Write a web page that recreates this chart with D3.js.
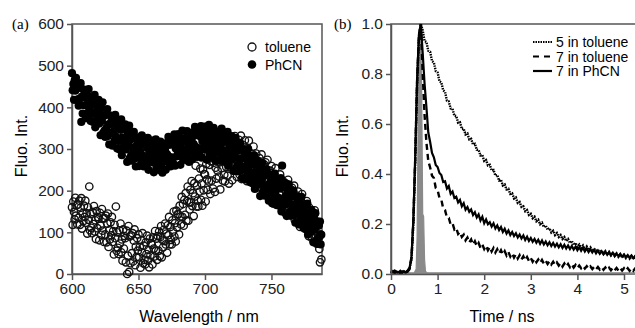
<!DOCTYPE html>
<html>
<head>
<meta charset="utf-8">
<script src="https://cdn.jsdelivr.net/npm/d3@7"></script>
<style>
  body { margin: 0; background: #fff; }
  svg { display: block; font-family: Arial, "Liberation Sans", sans-serif; }
</style>
</head>
<body>
<div id="chart"></div>
<script>
// (a) emission spectra, one value every 0.5 nm from 600 nm
const wlStart = 600;
const wlStep = 0.5;
const wlTicks = [600, 650, 700, 750];
const intTicks = [0, 100, 200, 300, 400, 500, 600];

const toluene = [
  160, 118, 174, 149, 131, 183, 140, 165, 119, 167,
  135, 176, 118, 159, 182, 109, 146, 127, 164, 137,
  176, 123, 146, 97, 160, 130, 210, 105, 144, 111,
  98, 149, 120, 163, 102, 129, 84, 151, 110, 137,
  133, 81, 147, 116, 94, 156, 104, 133, 77, 134,
  95, 140, 76, 121, 145, 65, 105, 83, 124, 93,
  137, 77, 103, 47, 118, 86, 162, 56, 100, 63,
  48, 105, 73, 121, 52, 83, 32, 107, 61, 91,
  86, 28, 104, 0, 44, 115, 5, 90, 26, 93,
  50, 98, 30, 80, 107, 21, 66, 41, 86, 56,
  95, 40, 65, 15, 81, 52, 98, 26, 68, 34,
  23, 76, 48, 92, 32, 58, 16, 85, 45, 74,
  70, 23, 88, 61, 42, 103, 56, 85, 34, 91,
  56, 102, 43, 89, 115, 40, 82, 64, 106, 79,
  121, 71, 97, 51, 117, 93, 137, 71, 113, 82,
  71, 129, 102, 150, 90, 122, 78, 152, 112, 144,
  143, 95, 164, 138, 119, 185, 137, 168, 116, 178,
  142, 194, 128, 175, 210, 128, 172, 155, 202, 173,
  223, 163, 194, 139, 218, 186, 260, 162, 212, 176,
  162, 229, 198, 253, 178, 217, 164, 251, 201, 240,
  239, 174, 264, 227, 202, 286, 222, 262, 192, 271,
  224, 285, 205, 267, 301, 197, 255, 229, 285, 248,
  305, 234, 268, 203, 292, 254, 316, 224, 281, 238,
  222, 294, 257, 310, 236, 276, 217, 311, 256, 295,
  291, 225, 313, 275, 248, 331, 264, 304, 233, 311,
  261, 322, 239, 299, 332, 228, 282, 255, 309, 271,
  321, 255, 278, 223, 302, 266, 320, 234, 283, 242,
  228, 288, 253, 306, 231, 263, 208, 289, 239, 271,
  264, 208, 278, 245, 221, 287, 231, 260, 200, 263,
  221, 268, 199, 243, 274, 186, 229, 211, 248, 215,
  259, 199, 224, 169, 239, 206, 254, 176, 219, 182,
  167, 224, 191, 239, 170, 198, 152, 224, 178, 208,
  202, 146, 217, 184, 162, 226, 171, 198, 141, 203,
  162, 207, 143, 182, 212, 130, 170, 148, 188, 158,
  198, 141, 161, 113, 177, 150, 192, 119, 159, 124,
  109, 162, 132, 175, 110, 136, 91, 159, 117, 144,
  137, 86, 148, 118, 95, 153, 103, 123, 73, 126,
  88, 118, 60, 28, 95, 35
];

const phcn = [
  482, 441, 456, 418, 464, 440, 471, 418, 446, 419,
  404, 448, 421, 458, 365, 426, 385, 443, 405, 428,
  424, 374, 437, 407, 386, 444, 394, 421, 367, 422,
  384, 426, 365, 407, 430, 352, 390, 369, 407, 378,
  418, 361, 385, 333, 398, 367, 412, 339, 379, 344,
  329, 382, 351, 396, 331, 359, 311, 381, 338, 365,
  360, 308, 373, 343, 320, 382, 330, 358, 301, 359,
  319, 367, 298, 346, 371, 285, 328, 304, 348, 315,
  359, 299, 325, 269, 340, 308, 356, 278, 322, 285,
  272, 326, 296, 341, 277, 305, 258, 328, 285, 314,
  308, 259, 323, 294, 273, 333, 284, 311, 258, 314,
  277, 320, 260, 303, 327, 250, 290, 270, 309, 281,
  320, 268, 292, 244, 307, 279, 323, 255, 294, 262,
  250, 302, 274, 318, 259, 287, 243, 312, 271, 301,
  297, 250, 314, 287, 268, 329, 281, 310, 258, 315,
  280, 325, 266, 310, 335, 260, 301, 282, 322, 295,
  336, 285, 309, 262, 326, 299, 344, 276, 317, 285,
  274, 327, 299, 343, 284, 314, 269, 337, 298, 326,
  323, 276, 340, 312, 292, 353, 305, 333, 281, 338,
  302, 346, 287, 330, 355, 279, 319, 300, 339, 312,
  354, 299, 324, 274, 341, 311, 358, 286, 328, 294,
  281, 336, 305, 351, 288, 318, 272, 342, 300, 328,
  324, 272, 339, 309, 287, 349, 298, 326, 271, 329,
  290, 336, 272, 317, 341, 260, 301, 279, 320, 293,
  331, 275, 299, 247, 313, 282, 327, 255, 295, 260,
  246, 300, 269, 314, 249, 277, 230, 300, 256, 284,
  279, 227, 292, 261, 239, 300, 248, 276, 220, 277,
  237, 282, 217, 262, 285, 204, 244, 221, 262, 231,
  271, 215, 239, 187, 253, 222, 267, 195, 235, 200,
  188, 239, 212, 251, 192, 214, 176, 238, 198, 224,
  219, 170, 232, 203, 182, 241, 191, 218, 165, 220,
  183, 226, 164, 205, 230, 150, 260, 176, 210, 180,
  219, 166, 188, 139, 202, 172, 215, 146, 185, 151,
  140, 188, 159, 200, 141, 166, 123, 186, 147, 172,
  166, 119, 178, 150, 129, 185, 137, 162, 111, 163,
  127, 167, 108, 148, 169, 95, 131, 110, 146, 118,
  154, 103, 124, 76, 135, 106, 146, 79, 115, 83,
  72, 116, 89, 126, 71, 94
];

// (b) decay profiles, one value every 0.04 ns from 0 ns
const tStep = 0.04;
const timeTicks = [0, 1, 2, 3, 4, 5];
const fluoTicks = [0, 0.2, 0.4, 0.6, 0.8, 1.0];

const tol5 = [
  0.010, 0.004, 0.012, 0.008, 0.002, 0.006, 0.014, 0.005, 0.009, 0.012,
  0.022, 0.060, 0.200, 0.450, 0.760, 0.950, 1.000,
  0.975, 0.932, 0.928, 0.893, 0.889, 0.852, 0.846, 0.812, 0.806, 0.771,
  0.766, 0.735, 0.728, 0.693, 0.690, 0.662, 0.661, 0.633, 0.632, 0.605,
  0.607, 0.580, 0.581, 0.558, 0.562, 0.538, 0.541, 0.518, 0.521, 0.497,
  0.496, 0.474, 0.476, 0.452, 0.456, 0.434, 0.437, 0.414, 0.416, 0.394,
  0.396, 0.374, 0.377, 0.354, 0.358, 0.338, 0.341, 0.320, 0.323, 0.302,
  0.306, 0.284, 0.288, 0.268, 0.271, 0.251, 0.256, 0.236, 0.241, 0.223,
  0.229, 0.211, 0.217, 0.199, 0.205, 0.188, 0.194, 0.177, 0.183, 0.166,
  0.173, 0.156, 0.164, 0.148, 0.156, 0.140, 0.148, 0.132, 0.140, 0.124,
  0.132, 0.116, 0.124, 0.109, 0.118, 0.104, 0.114, 0.100, 0.110, 0.096,
  0.106, 0.092, 0.102, 0.088, 0.098, 0.084, 0.094, 0.081, 0.091, 0.078,
  0.088, 0.075, 0.085, 0.072, 0.082, 0.069, 0.079, 0.066, 0.076, 0.064,
  0.074, 0.062, 0.072, 0.060, 0.070, 0.059, 0.068, 0.058, 0.067, 0.057,
  0.065
];

const tol7 = [
  0.004, 0.009, 0.013, 0.005, 0.011, 0.003, 0.009, 0.014, 0.007, 0.010,
  0.020, 0.065, 0.210, 0.460, 0.770, 0.950, 1.000,
  0.802, 0.636, 0.527, 0.452, 0.426, 0.393, 0.384, 0.344, 0.336, 0.304,
  0.298, 0.262, 0.255, 0.226, 0.224, 0.198, 0.203, 0.178, 0.184, 0.160,
  0.168, 0.148, 0.157, 0.135, 0.146, 0.126, 0.138, 0.118, 0.131, 0.112,
  0.124, 0.105, 0.118, 0.100, 0.113, 0.095, 0.108, 0.090, 0.104, 0.086,
  0.099, 0.082, 0.095, 0.078, 0.091, 0.074, 0.088, 0.070, 0.083, 0.066,
  0.079, 0.062, 0.075, 0.058, 0.071, 0.055, 0.068, 0.052, 0.064, 0.049,
  0.061, 0.047, 0.058, 0.044, 0.056, 0.042, 0.053, 0.040, 0.051, 0.038,
  0.049, 0.036, 0.046, 0.034, 0.044, 0.030, 0.042, 0.029, 0.040, 0.027,
  0.038, 0.026, 0.036, 0.024, 0.034, 0.023, 0.032, 0.022, 0.031, 0.021,
  0.030, 0.020, 0.029, 0.019, 0.028, 0.018, 0.027, 0.017, 0.026, 0.016,
  0.025, 0.015, 0.025, 0.015, 0.024, 0.014, 0.024, 0.014, 0.023, 0.013,
  0.023, 0.013, 0.022, 0.013, 0.022, 0.012, 0.022, 0.012, 0.021, 0.012,
  0.021
];

const phcn7 = [
  0.006, 0.012, 0.003, 0.010, 0.007, 0.013, 0.004, 0.011, 0.006, 0.015,
  0.025, 0.070, 0.220, 0.470, 0.780, 0.960, 1.000,
  0.884, 0.762, 0.668, 0.566, 0.528, 0.484, 0.467, 0.436, 0.428, 0.404,
  0.396, 0.368, 0.371, 0.342, 0.352, 0.321, 0.330, 0.304, 0.309, 0.286,
  0.296, 0.271, 0.283, 0.257, 0.268, 0.249, 0.258, 0.236, 0.247, 0.226,
  0.238, 0.214, 0.229, 0.203, 0.218, 0.199, 0.207, 0.190, 0.203, 0.182,
  0.194, 0.176, 0.188, 0.168, 0.181, 0.162, 0.174, 0.156, 0.168, 0.152,
  0.163, 0.146, 0.158, 0.142, 0.154, 0.136, 0.149, 0.132, 0.144, 0.129,
  0.140, 0.125, 0.137, 0.121, 0.134, 0.118, 0.130, 0.115, 0.127, 0.112,
  0.124, 0.110, 0.121, 0.107, 0.119, 0.104, 0.117, 0.102, 0.114, 0.100,
  0.112, 0.098, 0.109, 0.095, 0.107, 0.093, 0.105, 0.090, 0.102, 0.088,
  0.099, 0.086, 0.097, 0.083, 0.094, 0.081, 0.091, 0.079, 0.089, 0.077,
  0.087, 0.075, 0.085, 0.073, 0.082, 0.071, 0.080, 0.069, 0.078, 0.067,
  0.076, 0.065, 0.074, 0.063, 0.072, 0.062, 0.071, 0.060, 0.070, 0.059,
  0.068
];

// instrument response (grey)
const irfTime = [0, 0.50, 0.54, 0.56, 0.58, 0.60, 0.62, 0.64, 0.66, 0.68, 0.70, 0.72, 0.74, 0.78, 5.6];
const irfVal = [0.005, 0.005, 0.02, 0.15, 0.55, 0.92, 1.0, 0.96, 0.70, 0.24, 0.23, 0.06, 0.01, 0.005, 0.005];

const W = 635, H = 328;
const axisColor = '#555';
const font = 'Arial, "Liberation Sans", sans-serif';

const svg = d3.select('#chart').append('svg')
  .attr('width', W)
  .attr('height', H);

function styleAxis(g) {
  g.attr('font-family', font).attr('font-size', 15.5);
  g.select('.domain').attr('stroke', axisColor).attr('stroke-width', 1.5);
  g.selectAll('.tick line').attr('stroke', axisColor).attr('stroke-width', 1.5);
  g.selectAll('.tick text').attr('fill', '#222');
}

// ---------- panel (a) ----------
const xA = d3.scaleLinear().domain([600, 788]).range([72, 322]);
const yA = d3.scaleLinear().domain([0, 600]).range([274, 24]);

const gA = svg.append('g');

gA.append('rect')
  .attr('x', xA.range()[0]).attr('y', yA.range()[1])
  .attr('width', xA.range()[1] - xA.range()[0])
  .attr('height', yA.range()[0] - yA.range()[1])
  .attr('fill', 'none').attr('stroke', axisColor).attr('stroke-width', 1.5);

gA.append('g')
  .attr('transform', `translate(0,${yA.range()[0]})`)
  .call(d3.axisBottom(xA).tickValues(wlTicks).tickSize(6).tickSizeOuter(0).tickPadding(3))
  .call(styleAxis);

gA.append('g')
  .attr('transform', `translate(${xA.range()[0]},0)`)
  .call(d3.axisLeft(yA).tickValues(intTicks).tickSize(5).tickSizeOuter(0).tickPadding(3))
  .call(styleAxis);

gA.append('g').selectAll('circle')
  .data(toluene)
  .enter().append('circle')
  .attr('cx', (d, i) => xA(wlStart + i * wlStep))
  .attr('cy', d => yA(d))
  .attr('r', 3.7)
  .attr('fill', 'none')
  .attr('stroke', '#111')
  .attr('stroke-width', 1.35);

gA.append('g').selectAll('circle')
  .data(phcn)
  .enter().append('circle')
  .attr('cx', (d, i) => xA(wlStart + i * wlStep))
  .attr('cy', d => yA(d))
  .attr('r', 4.1)
  .attr('fill', '#000');

// legend (a)
const legA = gA.append('g').style('font-size', '14px');
legA.append('circle').attr('cx', 252).attr('cy', 47).attr('r', 4)
  .attr('fill', 'none').attr('stroke', '#111').attr('stroke-width', 1.3);
legA.append('circle').attr('cx', 252).attr('cy', 64.5).attr('r', 4.3).attr('fill', '#000');
legA.append('text').attr('x', 265).attr('y', 52).text('toluene');
legA.append('text').attr('x', 265).attr('y', 69.5).text('PhCN');

gA.append('text')
  .attr('transform', 'translate(27,146) rotate(-90)')
  .attr('text-anchor', 'middle')
  .style('font-size', '16px')
  .text('Fluo. Int.');
gA.append('text')
  .attr('x', 199).attr('y', 322)
  .attr('text-anchor', 'middle')
  .style('font-size', '16px')
  .text('Wavelength / nm');
gA.append('text')
  .attr('x', 12).attr('y', 29)
  .style('font-family', '"Liberation Serif", "Times New Roman", serif')
  .style('font-size', '15px')
  .text('(a)');

// ---------- panel (b) ----------
const xB = d3.scaleLinear().domain([0, 5]).range([391, 624]);
const yB = d3.scaleLinear().domain([0, 1]).range([274, 24]);

const gB = svg.append('g');

gB.append('rect')
  .attr('x', xB(0)).attr('y', yB(1))
  .attr('width', xB(5.6) - xB(0))
  .attr('height', yB(0) - yB(1))
  .attr('fill', 'none').attr('stroke', axisColor).attr('stroke-width', 1.5);

gB.append('path')
  .datum(irfTime.map((t, i) => [t, irfVal[i]]))
  .attr('fill', '#8a8a8a')
  .attr('stroke', '#8a8a8a')
  .attr('stroke-width', 1.2)
  .attr('d', d3.area().x(d => xB(d[0])).y0(yB(0)).y1(d => yB(d[1])));

const line = d3.line().x((d, i) => xB(i * tStep)).y(d => yB(d));

const curves = [
  { data: tol5, dash: '1.5,1', width: 2.4 },
  { data: tol7, dash: '6,4', width: 2.4 },
  { data: phcn7, dash: null, width: 2.2 }
];

curves.forEach(c => {
  gB.append('path')
    .datum(c.data)
    .attr('fill', 'none')
    .attr('stroke', '#000')
    .attr('stroke-width', c.width)
    .attr('stroke-dasharray', c.dash)
    .attr('d', line);
});

gB.append('g')
  .attr('transform', `translate(0,${yB(0)})`)
  .call(d3.axisBottom(xB).tickValues(timeTicks).tickFormat(d3.format('d')).tickSize(6).tickSizeOuter(0).tickPadding(3))
  .call(styleAxis);

gB.append('g')
  .attr('transform', `translate(${xB(0)},0)`)
  .call(d3.axisLeft(yB).tickValues(fluoTicks).tickFormat(d3.format('.1f')).tickSize(5).tickSizeOuter(0).tickPadding(3))
  .call(styleAxis);

// legend (b)
const legendB = ['5 in toluene', '7 in toluene', '7 in PhCN'];
const legB = gB.append('g').style('font-size', '14px');
legendB.forEach((name, i) => {
  const y = 42 + i * 14.5;
  legB.append('line')
    .attr('x1', 533).attr('x2', 552).attr('y1', y).attr('y2', y)
    .attr('stroke', '#000')
    .attr('stroke-width', i === 0 ? 1.8 : 2.2)
    .attr('stroke-dasharray', i === 1 ? '6,5' : curves[i].dash);
  legB.append('text').attr('x', 556).attr('y', y + 5).text(name);
});

gB.append('text')
  .attr('transform', 'translate(348,146) rotate(-90)')
  .attr('text-anchor', 'middle')
  .style('font-size', '16px')
  .text('Fluo. Int.');
gB.append('text')
  .attr('x', 502).attr('y', 322)
  .attr('text-anchor', 'middle')
  .style('font-size', '16px')
  .text('Time / ns');
gB.append('text')
  .attr('x', 334).attr('y', 29)
  .style('font-family', '"Liberation Serif", "Times New Roman", serif')
  .style('font-size', '15px')
  .text('(b)');
</script>
</body>
</html>
